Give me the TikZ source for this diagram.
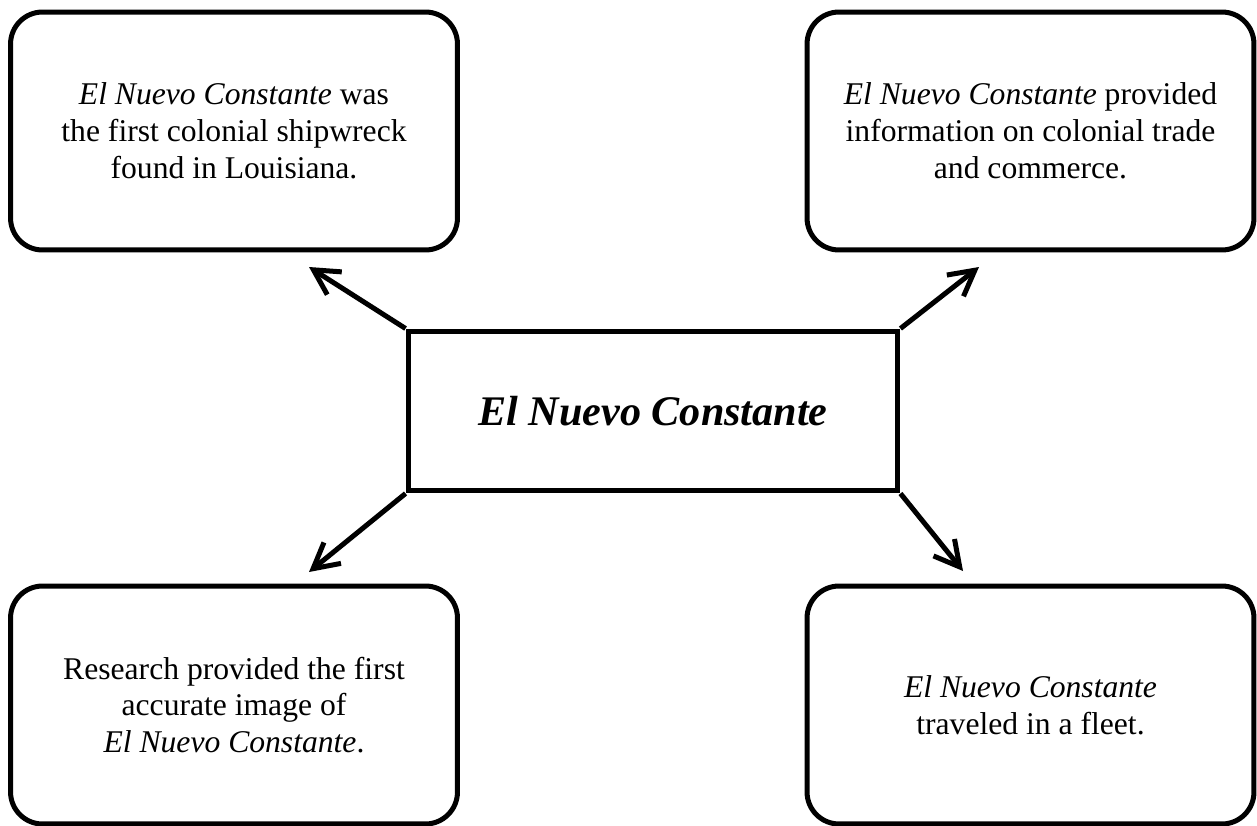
\documentclass[tikz,border=0pt]{standalone}
\usepackage{fontspec}
\setmainfont{Liberation Serif}
\usetikzlibrary{arrows.meta, positioning}

\begin{document}
\begin{tikzpicture}[
    x=0.02cm, y=-0.02cm,
    fact/.style={rectangle, rounded corners=0.64cm, draw=black, line width=2.85pt, minimum width=8.94cm, minimum height=4.76cm, align=center, font=\fontsize{18}{21}\selectfont},
    hub/.style={rectangle, draw=black, line width=2.85pt, minimum width=9.8cm, minimum height=3.2cm, font=\fontsize{24}{28}\selectfont\bfseries\itshape},
    link/.style={-{Straight Barb[length=5mm, width=5.4mm]}, line width=2.85pt}
]
    \useasboundingbox (0,0) rectangle (1257,825);

    % Centre
    \node[hub] (ship) at (653,411) {El Nuevo Constante};

    % Facts
    \node[fact] (found) at (234,131) {\textit{El Nuevo Constante} was\\the first colonial shipwreck\\found in Louisiana.};
    \node[fact] (trade) at (1030.5,131) {\textit{El Nuevo Constante} provided\\information on colonial trade\\and commerce.};
    \node[fact] (image) at (234,705) {Research provided the first\\accurate image of\\\textit{El Nuevo Constante}.};
    \node[fact] (fleet) at (1030.5,705) {\textit{El Nuevo Constante}\\traveled in a fleet.};

    % Arrow tips
    \coordinate (foundtip) at (309,267);
    \coordinate (tradetip) at (979,267);
    \coordinate (imagetip) at (309,572);
    \coordinate (fleettip) at (963,571);

    % Arrows
    \draw[link] (ship.north west) -- (foundtip);
    \draw[link] (ship.north east) -- (tradetip);
    \draw[link] (ship.south west) -- (imagetip);
    \draw[link] (ship.south east) -- (fleettip);
\end{tikzpicture}
\end{document}
